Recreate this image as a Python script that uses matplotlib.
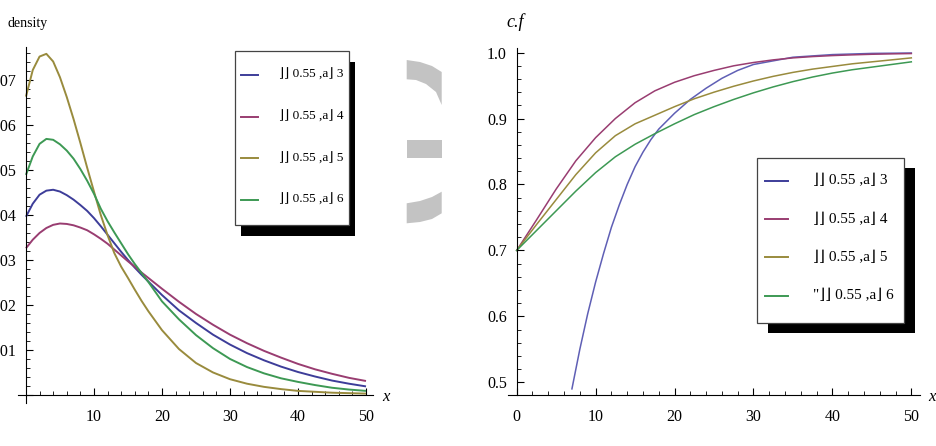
import matplotlib
matplotlib.use("Agg")
import matplotlib.pyplot as plt
from matplotlib.patches import Rectangle, Polygon
from matplotlib.lines import Line2D
from matplotlib.ticker import MultipleLocator, FuncFormatter

plt.rcParams['font.family'] = ['Liberation Serif', 'DejaVu Serif']

# series colours (old Mathematica default palette)
colors = ['#3d3d99', '#993d71', '#998b3d', '#3d9954']
labels_left = ['\u230b\u230b 0.55 ,a\u230b 3', '\u230b\u230b 0.55 ,a\u230b 4',
               '\u230b\u230b 0.55 ,a\u230b 5', '\u230b\u230b 0.55 ,a\u230b 6']
labels_right = ['\u230b\u230b 0.55 ,a\u230b 3', '\u230b\u230b 0.55 ,a\u230b 4',
                '\u230b\u230b 0.55 ,a\u230b 5', '"\u230b\u230b 0.55 ,a\u230b 6']

# density curves
x_pdf = [0, 1, 2, 3, 4, 5, 6, 7, 8, 9, 10, 11, 12, 13, 14, 15, 16, 17, 18,
         20, 22.5, 25, 27.5, 30, 32.5, 35, 37.5, 40, 42.5, 45, 47.5, 50]
pdf_a3 = [0.0396, 0.0425, 0.0445, 0.0454, 0.0456, 0.0452, 0.0444, 0.0434, 0.0422,
          0.0409, 0.0393, 0.0375, 0.0356, 0.0337, 0.0318, 0.0300, 0.0283, 0.0267,
          0.0252, 0.0222, 0.0188, 0.0160, 0.0134, 0.0112, 0.0093, 0.0077, 0.0063,
          0.0051, 0.0041, 0.0032, 0.0025, 0.0019]
pdf_a4 = [0.0326, 0.0345, 0.0360, 0.0371, 0.0378, 0.0381, 0.0380, 0.0377, 0.0372,
          0.0366, 0.0357, 0.0347, 0.0336, 0.0323, 0.0310, 0.0297, 0.0285, 0.0272,
          0.0260, 0.0236, 0.0207, 0.0180, 0.0156, 0.0134, 0.0115, 0.0098, 0.0083,
          0.0069, 0.0057, 0.0047, 0.0038, 0.0031]
pdf_a5 = [0.0663, 0.0722, 0.0752, 0.0758, 0.0741, 0.0706, 0.0662, 0.0613, 0.0560,
          0.0505, 0.0452, 0.0400, 0.0355, 0.0315, 0.0285, 0.0260, 0.0234, 0.0209,
          0.0186, 0.0144, 0.0102, 0.0071, 0.0050, 0.0035, 0.0025, 0.0018, 0.0013,
          0.0009, 0.0007, 0.0005, 0.0004, 0.0003]
pdf_a6 = [0.0489, 0.0530, 0.0558, 0.0569, 0.0567, 0.0557, 0.0543, 0.0525, 0.0502,
          0.0476, 0.0447, 0.0414, 0.0386, 0.0361, 0.0337, 0.0313, 0.0291, 0.0271,
          0.0251, 0.0208, 0.0168, 0.0133, 0.0104, 0.0080, 0.0062, 0.0048, 0.0037,
          0.0029, 0.0022, 0.0016, 0.0012, 0.0009]

# c.f curves
x_cf = [0, 2.5, 5, 7.5, 10, 12.5, 15, 17.5, 20, 22.5, 25, 27.5, 30,
        32.5, 35, 37.5, 40, 42.5, 45, 47.5, 50]
cf_a4 = [0.700, 0.746, 0.793, 0.836, 0.871, 0.900, 0.924, 0.942, 0.955, 0.965,
         0.973, 0.980, 0.985, 0.989, 0.992, 0.994, 0.9955, 0.9966, 0.9975, 0.9981, 0.9986]
cf_a5 = [0.700, 0.739, 0.777, 0.815, 0.848, 0.874, 0.892, 0.905, 0.918, 0.930,
         0.940, 0.949, 0.957, 0.964, 0.970, 0.975, 0.979, 0.983, 0.986, 0.989, 0.992]
cf_a6 = [0.700, 0.730, 0.760, 0.790, 0.818, 0.842, 0.861, 0.877, 0.892, 0.906,
         0.918, 0.929, 0.939, 0.948, 0.956, 0.963, 0.969, 0.974, 0.978, 0.982, 0.986]
x_cf3 = [7, 8, 9, 10, 11, 12, 13, 14, 15, 16, 17, 18, 20, 22, 24, 26, 28, 30,
         35, 40, 45, 50]
cf_a3 = [0.490, 0.550, 0.604, 0.652, 0.695, 0.735, 0.769, 0.800, 0.827, 0.849,
         0.868, 0.884, 0.908, 0.929, 0.946, 0.961, 0.973, 0.982, 0.993, 0.997,
         0.9988, 0.9994]

W, H = 937, 446
fig = plt.figure(figsize=(W / 100, H / 100), dpi=100)


def fx(px):
    return px / W


def fy(py):
    return 1 - py / H


def style_axes(ax, ymajor, yminor, fmt, show_zero_x):
    for s in ['top', 'right']:
        ax.spines[s].set_visible(False)
    ax.spines['left'].set_position(('data', 0))
    ax.spines['bottom'].set_position(('data', 0 if show_zero_x is False else ax.get_ylim()[0]))
    ax.xaxis.set_major_locator(MultipleLocator(10))
    ax.xaxis.set_minor_locator(MultipleLocator(2))
    ax.yaxis.set_major_locator(MultipleLocator(ymajor))
    ax.yaxis.set_minor_locator(MultipleLocator(yminor))
    ax.yaxis.set_major_formatter(FuncFormatter(fmt))
    ax.tick_params(which='major', direction='in', length=5, width=0.8, labelsize=11.5, pad=7)
    ax.tick_params(which='minor', direction='in', length=3, width=0.6)
    ax.tick_params(axis='x', pad=10)
    ax.set_facecolor('none')


# left panel: density
ax1 = fig.add_axes([fx(17.8), fy(402.6), fx(355), 355.5 / H])
for yv, c in zip([pdf_a3, pdf_a4, pdf_a5, pdf_a6], colors):
    ax1.plot(x_pdf, yv, color=c, lw=1.4, solid_capstyle='butt')
ax1.set_xlim(-1.2, 51)
ax1.set_ylim(-0.0017, 0.0773)
style_axes(ax1, 0.01, 0.002, lambda v, p: '' if abs(v) < 1e-9 else f'{v:.2f}', False)
ax1.set_xticks([10, 20, 30, 40, 50])

# right panel: c.f
ax2 = fig.add_axes([fx(508), fy(395), fx(412), 347 / H])
for xv, yv, c in zip([x_cf3, x_cf, x_cf, x_cf], [cf_a3, cf_a4, cf_a5, cf_a6], colors):
    ax2.plot(xv, yv, color=c, lw=1.1)
ax2.lines[0].set_color('#5f5fb5')
ax2.set_xlim(-1.1, 51.1)
ax2.set_ylim(0.4807, 1.007)
style_axes(ax2, 0.1, 0.02, lambda v, p: f'{v:.1f}', True)
ax2.spines['left'].set_bounds(0.4807, 1.007)

# axis labels
fig.text(fx(8), fy(23), 'density', fontsize=10, va='center', ha='left')
fig.text(fx(506), fy(22), 'c.f', fontsize=13, style='italic', va='center', ha='left')
fig.text(fx(382), fy(397), 'x', fontsize=12, style='italic', va='center', ha='left')
fig.text(fx(928), fy(397), 'x', fontsize=12, style='italic', va='center', ha='left')


def draw_legend(box, shadow, rows, hx, tx, labels, lw, fs):
    l, t, r, b = box
    dx, dy = shadow
    fig.add_artist(Rectangle((fx(l + dx), fy(b + dy)), fx(r - l), (b - t) / H,
                             transform=fig.transFigure, facecolor='black', edgecolor='none'))
    fig.add_artist(Rectangle((fx(l), fy(b)), fx(r - l), (b - t) / H,
                             transform=fig.transFigure, facecolor='white',
                             edgecolor='#444444', lw=0.9))
    for yrow, c, lab in zip(rows, colors, labels):
        fig.add_artist(Line2D([fx(hx[0]), fx(hx[1])], [fy(yrow), fy(yrow)],
                              transform=fig.transFigure, color=c, lw=lw))
        fig.text(fx(tx), fy(yrow), lab, fontsize=fs, va='center', ha='left')


draw_legend((235, 51, 349, 225), (6.5, 11), [75, 116.7, 158.3, 200], (241, 258), 279,
            labels_left, 1.4, 9.5)
draw_legend((757, 158, 904, 323), (11, 10), [180.7, 219, 257.3, 295.7], (765, 788), 813,
            labels_right, 1.4, 11)

# grey fragment in the middle of the picture
grey = '#c3c3c3'
fig.add_artist(Polygon([(fx(406.7), fy(60)), (fx(420), fy(62)), (fx(432), fy(66)),
                        (fx(441.7), fy(72)), (fx(441.7), fy(105)), (fx(436), fy(92)),
                        (fx(426), fy(84)), (fx(416), fy(80)), (fx(406.7), fy(79.3))],
                       closed=True, transform=fig.transFigure, facecolor=grey, edgecolor='none'))
fig.add_artist(Rectangle((fx(406.7), fy(158.3)), fx(35), 18.3 / H,
                         transform=fig.transFigure, facecolor=grey, edgecolor='none'))
fig.add_artist(Polygon([(fx(406.7), fy(203.3)), (fx(420), fy(201)), (fx(432), fy(197)),
                        (fx(441.7), fy(191.7)), (fx(441.7), fy(213.3)), (fx(432), fy(219)),
                        (fx(420), fy(222)), (fx(406.7), fy(223.3))],
                       closed=True, transform=fig.transFigure, facecolor=grey, edgecolor='none'))

fig.savefig('out.png', dpi=100)
